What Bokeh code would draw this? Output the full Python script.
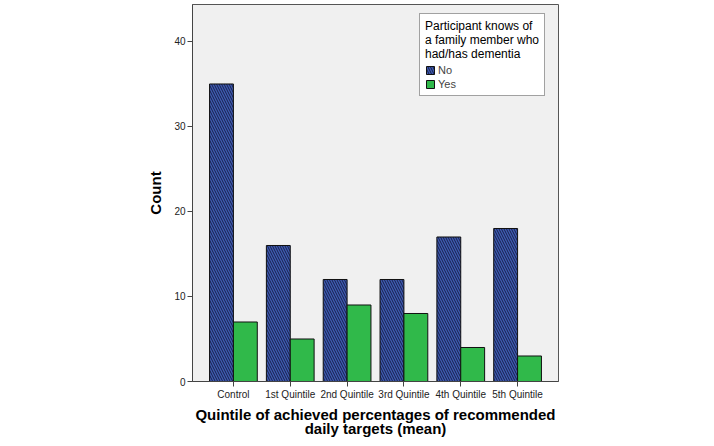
from bokeh.plotting import figure
from bokeh.models import FactorRange, Range1d, FixedTicker, Legend, LegendItem, ColumnDataSource
from bokeh.transform import dodge
from bokeh.embed import file_html
from bokeh.resources import INLINE

categories = ["Control", "1st Quintile", "2nd Quintile", "3rd Quintile", "4th Quintile", "5th Quintile"]
no_counts = [35, 16, 12, 12, 17, 18]
yes_counts = [7, 5, 9, 8, 4, 3]
y_ticks = [0, 10, 20, 30, 40]

src = ColumnDataSource(dict(cat=categories, no=no_counts, yes=yes_counts))

FONT = "Liberation Sans"

p = figure(width=706, height=440, output_backend="svg", toolbar_location=None,
           x_range=FactorRange(factors=categories, range_padding=0.22, range_padding_units="absolute"),
           y_range=Range1d(0, 44.35),
           min_border_left=192, min_border_right=148, min_border_top=4, min_border_bottom=59)

p.background_fill_color = "#f0f0f0"
p.border_fill_color = "white"
p.outline_line_color = "#555555"
p.outline_line_width = 1
p.xgrid.visible = False
p.ygrid.visible = False

r_no = p.vbar(x=dodge("cat", -0.21, range=p.x_range), top="no", width=0.42, source=src,
              fill_color="#3f5bb0", line_color="#111111", line_width=1,
              hatch_pattern="\\", hatch_color="#16204c", hatch_scale=5, hatch_weight=1.0)
r_yes = p.vbar(x=dodge("cat", 0.21, range=p.x_range), top="yes", width=0.42, source=src,
               fill_color="#30b94a", line_color="#111111", line_width=1)

p.yaxis.ticker = FixedTicker(ticks=y_ticks)
p.yaxis.minor_tick_line_color = None
p.yaxis.major_tick_out = 5
p.yaxis.major_tick_in = 0
p.yaxis.major_label_standoff = 2
p.yaxis.axis_label = "Count"
p.yaxis.axis_label_standoff = 7

p.xaxis.major_tick_out = 5
p.xaxis.major_tick_in = 0
p.xaxis.major_label_standoff = 2
p.xaxis.axis_label = "Quintile of achieved percentages of recommended\ndaily targets (mean)"
p.xaxis.axis_label_standoff = 3
p.xaxis.axis_label_text_line_height = 0.85

for ax in (p.xaxis, p.yaxis):
    ax.axis_line_color = "#444444"
    ax.major_tick_line_color = "#444444"
    ax.major_label_text_font = FONT
    ax.major_label_text_font_size = "10px"
    ax.major_label_text_color = "#222222"
    ax.axis_label_text_font = FONT
    ax.axis_label_text_font_size = "15px"
    ax.axis_label_text_font_style = "bold"
    ax.axis_label_text_color = "black"

legend = Legend(items=[LegendItem(label="No", renderers=[r_no]),
                       LegendItem(label="Yes", renderers=[r_yes])],
                location=(227, 285),
                title="Participant knows of\na family member who\nhad/has dementia")
legend.title_text_font = FONT
legend.title_text_font_size = "12px"
legend.title_text_font_style = "normal"
legend.title_text_color = "black"
legend.title_text_line_height = 1.15
legend.title_standoff = 3
legend.label_text_font = FONT
legend.label_text_font_size = "11px"
legend.label_height = 12
legend.glyph_height = 10
legend.glyph_width = 10
legend.label_standoff = 3
legend.spacing = 2
legend.padding = 5
legend.border_line_color = "#444444"
legend.background_fill_color = "white"
legend.background_fill_alpha = 1
p.add_layout(legend)

open("out.html", "w").write(file_html(p, INLINE))
